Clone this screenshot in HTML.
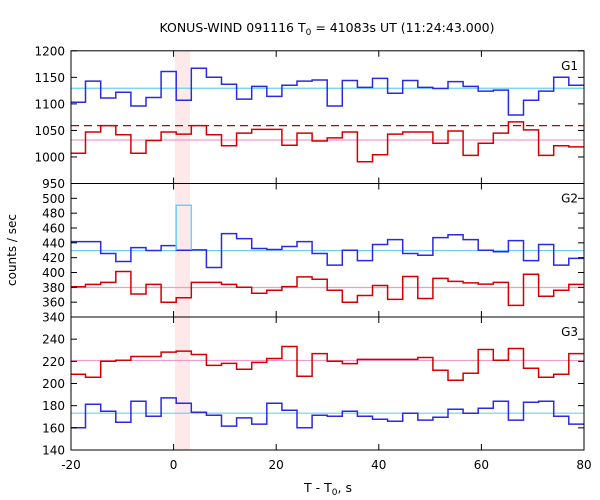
<!DOCTYPE html>
<html><head><meta charset="utf-8"><style>
body{margin:0;background:#fff;}
svg{display:block;font-family:"DejaVu Sans","Liberation Sans",sans-serif;}
</style></head><body>
<svg id="chart" width="600" height="500" viewBox="0 0 600 500" xmlns="http://www.w3.org/2000/svg">
<text x="327" y="32" font-size="12.5" text-anchor="middle">KONUS-WIND 091116 T<tspan font-size="9" dy="3">0</tspan><tspan dy="-3"> = 41083s UT (11:24:43.000)</tspan></text>
<text transform="translate(16,250) rotate(-90)" font-size="12" text-anchor="middle">counts / sec</text>
<text x="328" y="492" font-size="12.5" text-anchor="middle">T - T<tspan font-size="9" dy="3">0</tspan><tspan dy="-3">, s</tspan></text>
<g id="layer"></g>
</svg>
<script>
const binStart = 0.5, binWidth = 2.944, firstBin = -7;
const xTicks = [-20, 0, 20, 40, 60, 80];
const g1Blue = [1103,1143,1111,1122,1096,1112,1161,1107,1167,1150,1137,1109,1133,1114,1135,1143,1145,1096,1144,1131,1148,1120,1144,1131,1129,1142,1133,1124,1126,1079,1107,1124,1150,1135];
const g1Red = [1007,1047,1059,1042,1007,1031,1047,1043,1059,1042,1021,1045,1052,1052,1022,1045,1030,1036,1047,991,1004,1043,1047,1047,1026,1049,1003,1026,1045,1066,1051,1003,1021,1019];
const g2Blue = [441.7,441.7,425.6,414.8,433.6,429.6,436.3,430,430.5,406.7,452.5,445.7,432.3,431,435,441.7,425.6,410,430,416,437.7,444.4,425.6,423.3,447,451,444.4,430,428,443,416,437.7,410,419];
const g2Red = [380.7,384,386.6,401.4,371,384,360,366,386.6,386.6,384,380,372,376,381,394,391,376,360,369,382.5,363.7,394.6,365,392,388,386,384.3,386.6,355.6,397.7,368,376,384];
const g3Red = [208.3,205.6,220,221,224.4,224.4,228.3,229.2,226.2,216.3,218.1,212.8,219,222.6,233.4,206.5,227,220,218,221.7,221.7,221.7,221.7,223.5,211.9,202.9,209.2,230.7,221,231.6,213.7,205.6,208.3,227];
const g3Blue = [160,181.3,175,165.1,184,170.5,187,182.2,174.1,171.4,161.6,169,163.4,182.2,175.9,160,171.4,170.5,175,170.5,167.8,166,173.2,167,169.6,176.8,173.2,177.7,184,167,183.1,184,170.5,163.4];
const g2Spike = [490.6];
const levels1 = [1129.4, 1059, 1032];
const levels2 = [429.6, 379.8];
const levels3 = [220.8, 173.2];
const ticks1 = [950,1000,1050,1100,1150,1200];
const ticks2 = [340,360,380,400,420,440,460,480,500];
const ticks3 = [140,160,180,200,220,240];
const shadeRange = [0.27, 3.2];

const NS = "http://www.w3.org/2000/svg";
const L = 71, R = 584;
const xMin = -20, xMax = 80;
const X = t => L + (t - xMin) / (xMax - xMin) * (R - L);
const panels = [
  {top:50.8, bot:183.5, lo:950, hi:1200, ticks:ticks1, label:"G1"},
  {top:183.5, bot:317, lo:340, hi:520, ticks:ticks2, label:"G2"},
  {top:317, bot:450, lo:140, hi:260, ticks:ticks3, label:"G3"}
];
const layer = document.getElementById("layer");
function mk(tag, attrs, parent){const e=document.createElementNS(NS,tag);for(const k in attrs)e.setAttribute(k,attrs[k]);(parent||layer).appendChild(e);return e;}
function Yf(p){return v => p.bot - (v - p.lo)/(p.hi - p.lo)*(p.bot - p.top);}
function stepPath(vals, Y){
  let d="";
  vals.forEach((v,i)=>{
    let a = binStart + (firstBin+i)*binWidth, b = a + binWidth;
    a = Math.max(a, xMin); b = Math.min(b, xMax);
    const y = Y(v).toFixed(1);
    d += (i===0 ? "M" : "L") + X(a).toFixed(1) + " " + y + " L" + X(b).toFixed(1) + " " + y + " ";
  });
  return d;
}
// shading
const sh = mk("rect",{x:X(shadeRange[0]),y:50.8,width:X(shadeRange[1])-X(shadeRange[0]),height:450-50.8,fill:"#fde8ea"});



const seriesByPanel = [
  [[g1Blue,"#2a2ae0"],[g1Red,"#d40000"]],
  [[g2Blue,"#2a2ae0"],[g2Red,"#d40000"]],
  [[g3Red,"#d40000"],[g3Blue,"#2a2ae0"]]
];
const levelsByPanel = [levels1, levels2, levels3];
panels.forEach((p, pi) => {
  const Y = Yf(p);
  const g = mk("g",{});
  
  
  // level lines
  const lv = levelsByPanel[pi];
  if (pi===0){
    const a = mk("line",{x1:L,x2:R,y1:Y(lv[0]),y2:Y(lv[0]),stroke:"#6ccff6","stroke-width":1.2},g);
     
    const b = mk("line",{x1:L,x2:R,y1:Y(lv[1]),y2:Y(lv[1]),stroke:"#c00000","stroke-width":1.3,"stroke-dasharray":"8,5"},g);
     
    const c = mk("line",{x1:L,x2:R,y1:Y(lv[2]),y2:Y(lv[2]),stroke:"#f49ac8","stroke-width":1.2},g);
     
  } else {
    const cols = pi===1 ? ["#6ccff6","#f49ac8"] : ["#f49ac8","#6ccff6"];
    lv.forEach((v,i)=>{
      const l = mk("line",{x1:L,x2:R,y1:Y(v),y2:Y(v),stroke:cols[i],"stroke-width":1.2},g);
      
      
    });
  }
  seriesByPanel[pi].forEach(([vals,col],si)=>{
    const path = mk("path",{d:stepPath(vals,Y),fill:"none",stroke:col,"stroke-width":1.5},g);
    
    
  });
  if (pi===1){
    const i0 = -firstBin;
    const a = binStart + 0*binWidth, b = a + binWidth;
    const sp = mk("path",{d:`M${X(a)} ${Y(g2Blue[i0])} L${X(a)} ${Y(g2Spike[0])} L${X(b)} ${Y(g2Spike[0])} L${X(b)} ${Y(g2Blue[i0+1])}`,fill:"none",stroke:"#6ccff6","stroke-width":1.5},g);
    
    
  }
  // frame
  const fr = mk("rect",{x:L,y:p.top,width:R-L,height:p.bot-p.top,fill:"none",stroke:"#000","stroke-width":1},g);
  
  
  // y ticks
  p.ticks.forEach(v=>{
    const y = Y(v);
    mk("line",{x1:L,x2:L+6,y1:y,y2:y,stroke:"#000"},g);
    mk("line",{x1:R-6,x2:R,y1:y,y2:y,stroke:"#000"},g);
    const t = mk("text",{x:L-6,y:y+4.5,"font-size":12,"text-anchor":"end"},g);
    t.textContent = v;
    
    
  });
  // x ticks
  xTicks.forEach(v=>{
    const x = X(v);
    mk("line",{x1:x,x2:x,y1:p.bot,y2:p.bot-6,stroke:"#000"},g);
    mk("line",{x1:x,x2:x,y1:p.top,y2:p.top+6,stroke:"#000"},g);
  });
  const lab = mk("text",{x:578,y:p.top+19,"font-size":12,"text-anchor":"end"},g);
  lab.textContent = p.label;
  
  
});
xTicks.forEach(v=>{
  const t = mk("text",{x:X(v),y:469,"font-size":12,"text-anchor":"middle"});
  t.textContent = v;
  
  
});
</script>
</body></html>
